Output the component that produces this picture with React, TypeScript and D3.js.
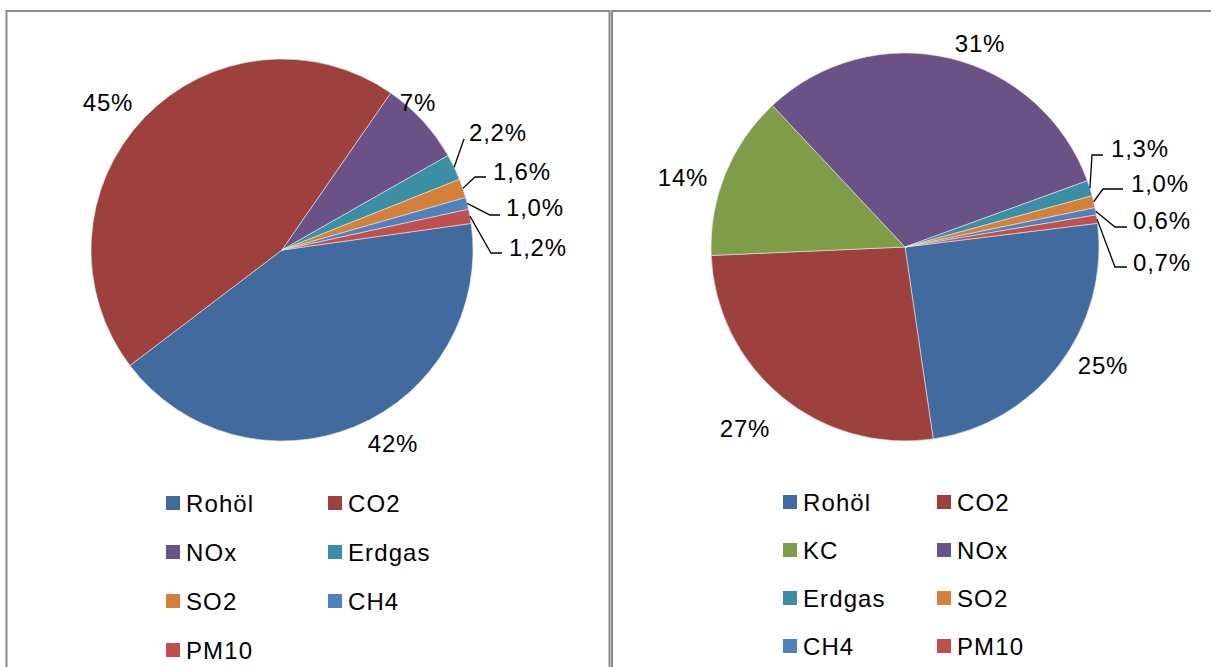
import React from "react";
import * as d3 from "d3";

const leftCategories = ["Rohöl", "CO2", "NOx", "Erdgas", "SO2", "CH4", "PM10"];
const leftValues = [41.8, 44.9, 7.1, 2.2, 1.6, 1.0, 1.2];

const rightCategories = ["Rohöl", "CO2", "KC", "NOx", "Erdgas", "SO2", "CH4", "PM10"];
const rightValues = [24.6, 26.6, 13.7, 31.4, 1.3, 1.0, 0.6, 0.7];

const colorOf: Record<string, string> = {
  "Rohöl": "#416A9E",
  CO2: "#9E413E",
  KC: "#7F9D48",
  NOx: "#6A5186",
  Erdgas: "#3A8FA4",
  SO2: "#D4803A",
  CH4: "#4F81BD",
  PM10: "#C0504D",
};

// label layout: offsets from pie center
type Lbl = { tx: number; ty: number; anchor?: "middle" | "start"; elbow?: [number, number]; end?: [number, number] };

const leftLabels: Lbl[] = [
  { tx: 111, ty: 193, anchor: "middle" },
  { tx: -174, ty: -148, anchor: "middle" },
  { tx: 136, ty: -148, anchor: "middle" },
  { tx: 187, ty: -118, elbow: [182, -111], end: [182, -111] },
  { tx: 211, ty: -79, elbow: [193, -73], end: [204, -73] },
  { tx: 224, ty: -43, elbow: [208, -35], end: [218, -35] },
  { tx: 227, ty: -3, elbow: [209, 3], end: [220, 3] },
];

const rightLabels: Lbl[] = [
  { tx: 198, ty: 118, anchor: "middle" },
  { tx: -160, ty: 181, anchor: "middle" },
  { tx: -222, ty: -70, anchor: "middle" },
  { tx: 75, ty: -204, anchor: "middle" },
  { tx: 206, ty: -99, elbow: [187, -92], end: [198, -92] },
  { tx: 226, ty: -64, elbow: [198, -58], end: [218, -58] },
  { tx: 228, ty: -27, elbow: [210, -20], end: [222, -20] },
  { tx: 228, ty: 15, elbow: [210, 20], end: [222, 20] },
];

const FONT = "'Liberation Sans', Arial, sans-serif";

function fmt(p: number): string {
  if (p >= 5) return `${Math.round(p)}%`;
  return `${p.toFixed(1).replace(".", ",")}%`;
}

function Pie(props: {
  cx: number;
  cy: number;
  r: number;
  cats: string[];
  vals: number[];
  labels: Lbl[];
  startDeg: number;
}) {
  const { cx, cy, r, cats, vals, labels, startDeg } = props;
  const total = d3.sum(vals);
  const start = (startDeg * Math.PI) / 180;
  const pie = d3
    .pie<number>()
    .sort(null)
    .startAngle(start)
    .endAngle(start + 2 * Math.PI);
  const arcs = pie(vals);
  const arc = d3.arc<d3.PieArcDatum<number>>().innerRadius(0).outerRadius(r);
  return (
    <g transform={`translate(${cx},${cy})`}>
      {arcs.map((a, i) => (
        <path key={i} d={arc(a) || ""} fill={colorOf[cats[i]]} stroke="#e8e8e8" strokeWidth={0.6} />
      ))}
      {arcs.map((a, i) => {
        const l = labels[i];
        const mid = (a.startAngle + a.endAngle) / 2;
        const px = r * Math.sin(mid);
        const py = -r * Math.cos(mid);
        const text = fmt((a.value / total) * 100);
        return (
          <g key={"l" + i}>
            {l.elbow && l.end ? (
              <polyline
                points={`${px},${py} ${l.elbow[0]},${l.elbow[1]} ${l.end[0]},${l.end[1]}`}
                fill="none"
                stroke="#000"
                strokeWidth={1.3}
              />
            ) : null}
            <text
              x={l.tx}
              y={l.ty}
              dy="0.36em"
              textAnchor={l.anchor || "start"}
              fontFamily={FONT}
              fontSize={24}
              letterSpacing={0.8}
              fill="#000"
            >
              {text}
            </text>
          </g>
        );
      })}
    </g>
  );
}

function Legend(props: { cats: string[]; colX: number[]; rowY: number[] }) {
  const { cats, colX, rowY } = props;
  return (
    <g>
      {cats.map((c, i) => {
        const x = colX[i % 2];
        const y = rowY[Math.floor(i / 2)];
        return (
          <g key={c}>
            <rect x={x} y={y - 7} width={14} height={14} fill={colorOf[c]} />
            <text x={x + 20} y={y} dy="0.36em" fontFamily={FONT} fontSize={24} letterSpacing={1.1} fill="#000">
              {c}
            </text>
          </g>
        );
      })}
    </g>
  );
}

export default function App() {
  return (
    <svg
      width={1211}
      height={667}
      style={{ position: "absolute", left: 0, top: 0, background: "#fff" }}
    >
      <rect x={0} y={0} width={1211} height={667} fill="#fff" />
      <rect x={6.5} y={11} width={603} height={700} fill="#fff" stroke="#8a8a8a" strokeWidth={2} />
      <rect x={612} y={11} width={620} height={700} fill="#fff" stroke="#8a8a8a" strokeWidth={2} />
      <Pie cx={282} cy={250} r={191} cats={leftCategories} vals={leftValues} labels={leftLabels} startDeg={82} />
      <Pie cx={905} cy={247} r={194} cats={rightCategories} vals={rightValues} labels={rightLabels} startDeg={83} />
      <Legend cats={leftCategories} colX={[166, 328]} rowY={[503, 552, 601, 650]} />
      <Legend cats={rightCategories} colX={[783, 937]} rowY={[502, 550, 598, 646]} />
    </svg>
  );
}
